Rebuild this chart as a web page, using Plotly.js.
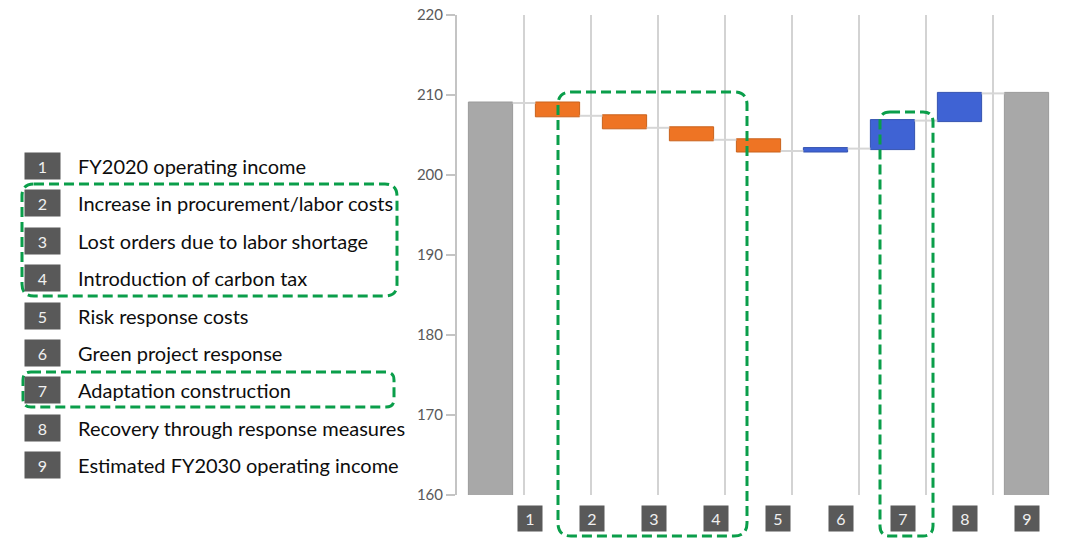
<!DOCTYPE html>
<html>
<head>
<meta charset="utf-8">
<script src="https://cdn.plot.ly/plotly-3.0.1.min.js"></script>
<style>html,body{margin:0;padding:0;background:#fff;}#chart{width:1066px;height:538px;}</style>
</head>
<body>
<div id="chart"></div>
<script>
// ---- data ----
const categories = [1, 2, 3, 4, 5, 6, 7, 8, 9];
const itemLabels = [
  "FY2020 operating income",
  "Increase in procurement/labor costs",
  "Lost orders due to labor shortage",
  "Introduction of carbon tax",
  "Risk response costs",
  "Green project response",
  "Adaptation construction",
  "Recovery through response measures",
  "Estimated FY2030 operating income"
];
const values = [209.0, -1.6, -1.5, -1.5, -1.4, 0.3, 3.5, 3.4, 0];
const measures = ["absolute", "relative", "relative", "relative", "relative", "relative", "relative", "relative", "total"];
const yTicks = [160, 170, 180, 190, 200, 210, 220];

// ---- geometry helpers (pixel -> paper) ----
const W = 1066, H = 538;
const M = {l: 457, r: 6, t: 15, b: 43};
const PW = W - M.l - M.r, PH = H - M.t - M.b;
const px = x => (x - M.l) / PW;
const py = y => (H - M.b - y) / PH;

function roundRect(x0, y0, x1, y1, r) {
  const P = (x, y) => px(x) + "," + py(y);
  return "M" + P(x0 + r, y0) + " L" + P(x1 - r, y0) + " Q" + P(x1, y0) + " " + P(x1, y0 + r) +
    " L" + P(x1, y1 - r) + " Q" + P(x1, y1) + " " + P(x1 - r, y1) +
    " L" + P(x0 + r, y1) + " Q" + P(x0, y1) + " " + P(x0, y1 - r) +
    " L" + P(x0, y0 + r) + " Q" + P(x0, y0) + " " + P(x0 + r, y0) + " Z";
}

const green = "#0a9e4a";
const dashLine = {color: green, width: 3, dash: "10px,5px"};

const trace = {
  type: "waterfall",
  x: categories,
  y: values,
  measure: measures,
  width: 0.66,
  connector: {mode: "between", line: {color: "#d6d6d6", width: 2}},
  decreasing: {marker: {color: "#ee7424", line: {color: "#c9621c", width: 1}}},
  increasing: {marker: {color: "#3f63d4", line: {color: "#3452b0", width: 1}}},
  totals: {marker: {color: "#a8a8a8", line: {color: "#9a9a9a", width: 1}}},
  hoverinfo: "x+y",
  textinfo: "none"
};

const gridVals = categories.map(c => c + 0.5);

const annotations = [];
const listTop = 166, listStep = 37.4;
categories.forEach((c, i) => {
  const yy = listTop + i * listStep;
  annotations.push({
    xref: "paper", yref: "paper", x: px(42), y: py(yy), xanchor: "center", yanchor: "middle",
    text: String(c), showarrow: false, width: 35, height: 26, borderpad: 0,
    bgcolor: "#595959", font: {family: "Lato", size: 16, color: "#f0f0f0"}
  });
  annotations.push({
    xref: "paper", yref: "paper", x: px(76), y: py(yy), xanchor: "left", yanchor: "middle",
    text: itemLabels[i], showarrow: false,
    font: {family: "Lato", size: 20, color: "#0d0d0d"}
  });
  annotations.push({
    xref: "paper", yref: "paper", x: px(530 + i * 62.1), y: py(518.5), xanchor: "center", yanchor: "middle",
    text: String(c), showarrow: false, width: 24, height: 25, borderpad: 0,
    bgcolor: "#595959", font: {family: "Lato", size: 16, color: "#f0f0f0"}
  });
});

const shapes = [
  {type: "path", xref: "paper", yref: "paper", path: roundRect(22, 184, 397, 296, 12), line: dashLine},
  {type: "path", xref: "paper", yref: "paper", path: roundRect(23, 372, 394, 407, 8), line: dashLine},
  {type: "path", xref: "paper", yref: "paper", path: roundRect(558, 92, 747, 536, 13), line: dashLine},
  {type: "path", xref: "paper", yref: "paper", path: roundRect(880, 112, 933, 536, 10), line: dashLine}
];

const layout = {
  width: W, height: H,
  margin: M,
  paper_bgcolor: "#ffffff", plot_bgcolor: "#ffffff",
  showlegend: false,
  xaxis: {
    type: "linear", range: [0.5, 9.5], tickvals: gridVals, showticklabels: false,
    ticks: "", showgrid: true, gridcolor: "#d3d3d3", gridwidth: 2, zeroline: false, showline: false,
    fixedrange: true
  },
  yaxis: {
    range: [160, 220], tickvals: yTicks, ticks: "outside", ticklen: 9, tickwidth: 1.5, tickcolor: "#c4c4c4",
    showline: true, linecolor: "#c4c4c4", linewidth: 2, showgrid: false, zeroline: false,
    tickfont: {family: "Lato", size: 15, color: "#595959"}, fixedrange: true
  },
  yaxis2: {
    overlaying: "y", side: "left", range: [160, 220], tickvals: yTicks, ticks: "inside", ticklen: 8,
    tickwidth: 1.5, tickcolor: "#c4c4c4", showticklabels: false, showline: false, showgrid: false,
    zeroline: false, fixedrange: true
  },
  annotations: annotations,
  shapes: shapes
};

Plotly.newPlot("chart", [trace], layout, {displayModeBar: false, staticPlot: true});
</script>
</body>
</html>
